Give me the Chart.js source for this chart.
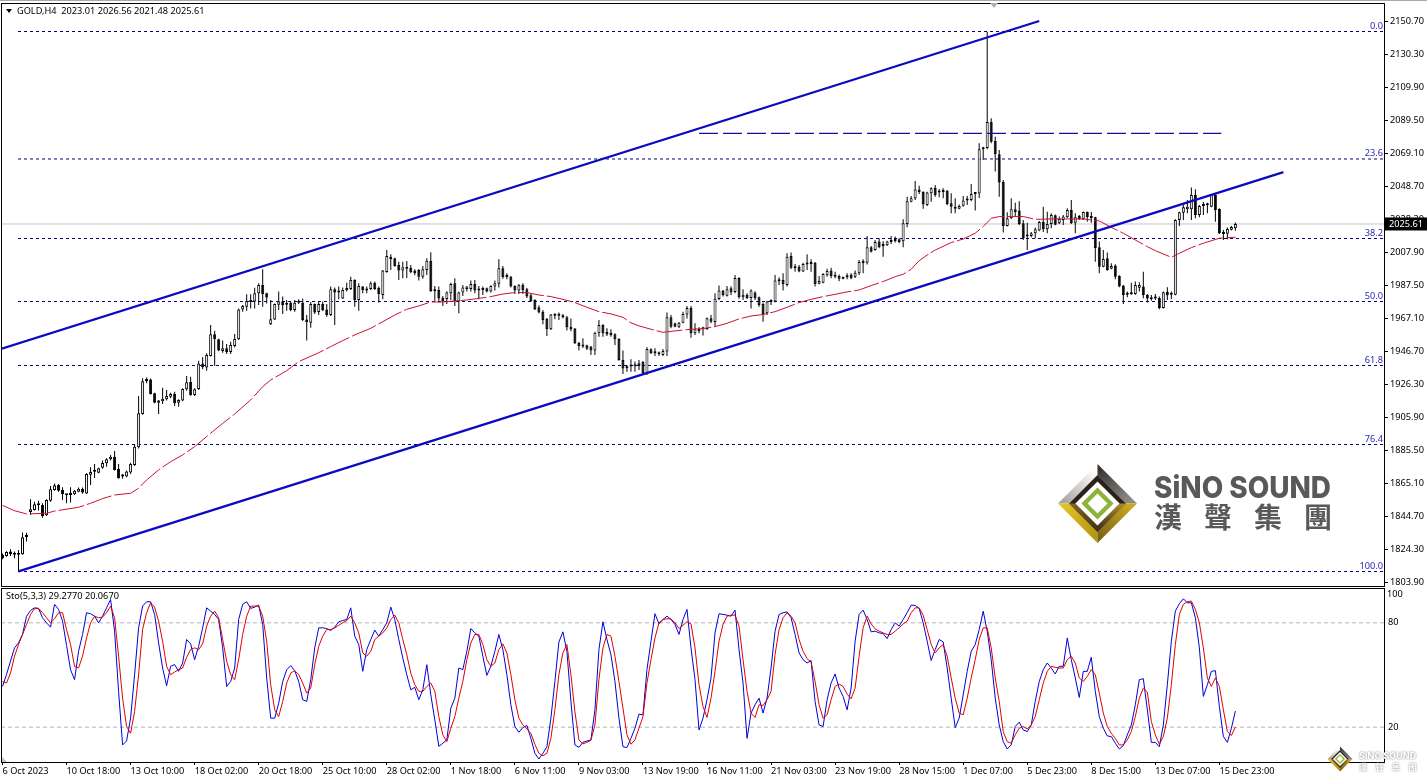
<!DOCTYPE html>
<html>
<head>
<meta charset="utf-8">
<title>GOLD,H4</title>
<script src="https://cdn.jsdelivr.net/npm/chart.js@4/dist/chart.umd.js"></script>
<style>
  html, body { margin: 0; padding: 0; background: #fff; overflow: hidden; }
  canvas { position: absolute; left: 0; }
  #price { top: 0; }
  #sto { top: 587px; }
</style>
</head>
<body>
<canvas id="price" width="1427" height="587"></canvas>
<canvas id="sto" width="1427" height="194"></canvas>
<script>
const opens = [
1820.9,1820.3,1823,1822,1821.8,1821.4,1832,1847.5,1848.8,1851.7,
1851.9,1845.5,1854.5,1861.1,1864.2,1861.1,1858.4,1858.4,1858.4,1860,
1861.7,1859,1870.6,1872.4,1871.8,1874.9,1877.6,1880.1,1881.7,1874.1,
1869.4,1869.4,1871.9,1876.6,1887.5,1908.1,1928.5,1929.5,1920.9,1915.1,
1916,1917.2,1918.8,1920.5,1915.1,1916.4,1923.4,1927.9,1919.9,1923.6,
1939.4,1936.8,1944,1957.4,1954.3,1947.1,1948.7,1946.4,1950.2,1954.3,
1972.8,1974.5,1977.4,1977.6,1982.7,1987.9,1982.7,1963.6,1966.6,1975.7,
1977.8,1976.5,1976.9,1972.4,1977.4,1976.9,1966.6,1964.6,1976.1,1971.2,
1976.1,1972.8,1969.3,1985.2,1983.2,1979.6,1984.8,1985.4,1991,1978.6,
1986.9,1985.2,1985.4,1989.3,1986.2,1981.7,1995.9,2005.4,2004.4,2000.3,
1996.8,1998.8,1998.4,1996.8,1997.2,1993,1997.2,2002.9,1984.8,1984.8,
1980,1979.2,1982.7,1988.9,1977.6,1983.2,1985.4,1985.4,1988.5,1985.2,
1985.8,1985.8,1983.8,1986.9,1988.7,1998.2,1994.1,1993,1987.3,1984.4,
1988.1,1985.2,1981.5,1978.6,1974.1,1971.4,1967,1960.5,1969.2,1968.8,
1969.1,1967.9,1962.1,1960.9,1952.2,1951,1950.6,1949.8,1947.3,1958,
1963.2,1958.8,1958.4,1957.4,1954.5,1941.5,1937.4,1938.6,1937.4,1939.5,
1940.3,1933.3,1948.1,1946.5,1945.6,1944.6,1946.7,1967.9,1964.2,1962.1,
1964.6,1969.6,1973.7,1958,1960.7,1960.5,1960.7,1967.3,1965,1979.2,
1984.4,1981.3,1985.8,1983.6,1992.2,1980.3,1981.9,1979.9,1983.2,1980.3,
1976.1,1970.4,1977.4,1977.6,1990.2,1991,1987.9,2005.8,1999,1999.2,
1996.3,2000.5,2000.9,2001.7,1988.7,1989.3,1993.9,1996.8,1994.1,1993.5,
1992.6,1992.6,1994.3,1993,1995.1,2002.9,2001.7,2011.2,2009.5,2014.7,
2012.8,2012.4,2014.5,2016.3,2016.1,2014.9,2025.6,2039.4,2041.3,2047,
2045.4,2037.4,2044.6,2047.9,2045.8,2046.2,2046.2,2038.4,2036.3,2035.1,
2036.9,2040.2,2040.5,2044.2,2044.4,2071.8,2072.6,2088.7,2076.9,2068.7,
2051.6,2024.4,2029.1,2034.7,2033.9,2026,2017.8,2018.2,2019.8,2021.5,
2026.9,2022.3,2025.6,2031,2026,2028.1,2029.7,2034.3,2026.4,2030.5,
2028.5,2033,2030.1,2029.7,2011.2,1999.2,2004.4,1998,2000,1993.5,
1987.5,1982.7,1982.7,1982.3,1986.2,1986.9,1981.9,1979.9,1979.5,1979.9,
1973.7,1983.6,1982.3,1981.9,2028.1,2032.6,2034.7,2034.7,2043.5,2031.2,
2036.7,2037.2,2036.3,2043.7,2034.9,2020.7,2019.6,2022.1,2023.01];

const highs = [
1821.9,1823.2,1824.4,1823,1824,1834.9,1834.7,1855.4,1853.9,1854.5,
1852.9,1855.4,1863.6,1865.2,1864.8,1862.8,1858.6,1862.8,1861.1,1862.6,
1862.6,1871.4,1875.1,1877.2,1874.9,1879.3,1880.7,1882.8,1885.2,1877.2,
1871,1873.1,1878,1889.6,1919.2,1930.2,1930.6,1930,1921.3,1916.8,
1924.4,1922.9,1921.3,1921.9,1917.2,1924,1931.6,1931.2,1924,1941.1,
1943.2,1945.6,1963.1,1959.6,1954.7,1953.5,1951.4,1952.8,1957.6,1973.4,
1975.5,1982.1,1982.1,1986.2,1988.9,1997.6,1983.1,1978.6,1976.5,1983.8,
1980.7,1978.6,1977.6,1978.6,1979,1979.6,1969.3,1977.4,1976.5,1977.6,
1977.6,1976.1,1986.9,1986.4,1986.9,1986.4,1989.3,1993,1991.4,1988.9,
1987.3,1986.9,1990,1990,1986.9,1997.2,2009.5,2006.9,2004.8,2002.3,
2002.3,2002.7,2000.3,1997.6,1997.8,1999.6,2004.4,2008.1,1987.3,1986.9,
1981.1,1984,1989.3,1992,1983.8,1987.9,1987.3,1990.6,1991,1987.3,
1986.9,1986.4,1987.7,1990.6,2003.8,1999.6,1995.1,1993.5,1987.7,1988.5,
1988.9,1986,1982.3,1979,1975.3,1972.4,1967.5,1970,1970.4,1970.8,
1970,1968.7,1967.1,1961.3,1952.6,1954.9,1951,1950.2,1959,1966.3,
1963.6,1961.1,1960.5,1958,1954.9,1947.3,1938.4,1941.9,1940.5,1941.5,
1940.9,1949.4,1948.7,1948.7,1946.7,1948.3,1970.8,1969.3,1964.6,1965,
1971.4,1974.9,1974.9,1964.2,1961.7,1962.1,1967.7,1969.3,1982.7,1987.5,
1984.8,1987.3,1987.1,1994.1,1992.6,1985.2,1982.7,1985.2,1984,1980.7,
1977,1978.2,1979,1994.1,1992.6,1995.1,2007.5,2007.9,2000.9,2000.3,
2001.7,2006.9,2003.8,2002.1,1993.5,1995.1,1998,1998.6,1996.1,1994.3,
1993,1995.1,1995.1,1996.8,2003.4,2003.8,2018.2,2012,2015.7,2016.8,
2015.1,2015.3,2018.2,2017.8,2016.8,2028.5,2042.5,2042.9,2052.2,2049.3,
2045.8,2045.6,2048.3,2049.7,2047.3,2047.7,2046.6,2044.6,2041.5,2037.6,
2042.9,2042.9,2050.3,2045,2075.5,2073.4,2144.5,2091,2079.6,2071.4,
2052.8,2032.8,2041.5,2038.8,2039.6,2028.1,2026.4,2020.7,2023.5,2027.5,
2036.3,2033.2,2032.2,2031.4,2030.2,2031.2,2035.3,2040.5,2032.2,2031.2,
2033.4,2033.4,2033,2030.1,2014.7,2009.5,2007.9,2001.3,2000.7,1993.9,
1987.9,1983.8,1989.3,1990,1989.5,1996.1,1982.3,1981.7,1982.3,1980.7,
1983.8,1986.5,1983.8,2028.5,2033.2,2037.4,2040.5,2048.1,2047.1,2037.4,
2039.2,2038.8,2044.2,2044.6,2035.3,2021.9,2023.5,2024.4,2026.56];

const lows = [
1818.3,1819.9,1820.3,1818.9,1810.8,1821,1829.2,1845.7,1848.4,1848.4,
1844,1845,1853.9,1860.7,1860.1,1854.9,1852.9,1853.3,1858,1859.7,
1858.8,1858.6,1864.2,1868.5,1871.4,1874.3,1875.5,1879.3,1873.1,1868.1,
1868.1,1869,1871,1876,1886.7,1907.7,1927.1,1920.1,1914.7,1908.1,
1914.3,1916.4,1917.8,1913.1,1912.6,1916,1922.5,1919.4,1919.2,1923,
1935.7,1934.9,1943.6,1937.8,1946.9,1946,1945.2,1945.2,1949.3,1953.9,
1971.4,1972,1973.4,1973.4,1975.5,1974.5,1976.5,1963.1,1966.2,1972.4,
1969.9,1972,1971.6,1971.4,1976.1,1965.6,1953.5,1961.5,1969.9,1969.3,
1971.6,1968.3,1968.7,1963.2,1979,1979.2,1983.8,1984.8,1974.5,1972,
1982.7,1982.7,1984.8,1984.8,1977,1979,1995.5,1997.2,1999.2,1991,
1992,1992.2,1995.1,1993.9,1990.6,1991.8,1994.1,1983.6,1978.2,1977,
1974.9,1976.1,1978.6,1974.9,1970.4,1981.1,1983.8,1983.8,1982.7,1979,
1981.7,1983.2,1983.2,1984.4,1986.4,1991.8,1991.4,1986.4,1982.3,1982.3,
1982.3,1979.9,1977.4,1972.4,1970.4,1963.6,1956.4,1960.1,1966.7,1966.2,
1967.1,1959.7,1959.2,1951.4,1947.3,1948.9,1947.7,1944.6,1944.6,1955.9,
1955.9,1956.4,1955.9,1950.8,1941.1,1932.9,1934.3,1934.3,1934.3,1935.3,
1932.9,1932.2,1945.2,1944,1944,1944,1944,1961.1,1961.7,1961.3,
1964.2,1967.1,1955.3,1957,1958,1956.6,1960.1,1964.2,1962.1,1978.6,
1980.7,1980.7,1981.7,1982.7,1979.4,1978.6,1979.2,1973.3,1978.6,1974.5,
1965.2,1969.3,1975.5,1977.2,1987.9,1984.4,1986.9,1997.8,1996.1,1995.7,
1995.9,1997.2,1996.1,1986.9,1988.3,1988.9,1993,1992,1992,1990.2,
1991.4,1991.4,1991.4,1992.2,1994.1,1995.1,2000.5,2007.9,2009.1,2010.6,
2005.4,2012,2013.2,2014.1,2013.7,2011.2,2023.6,2039,2040.5,2044.2,
2035.1,2036.7,2039.4,2042.5,2042.1,2041.5,2037.2,2032.2,2032.2,2034.7,
2036.3,2037.4,2039.6,2033.9,2041.7,2065.2,2071.8,2075.5,2058,2042.5,
2020.3,2024,2028.7,2030.2,2025,2015.7,2009.5,2017.4,2016.8,2021.1,
2020.7,2019.8,2022.9,2024.8,2025.6,2025,2029.3,2025.6,2019.8,2028.1,
2028.1,2027,2026.4,2002.3,1995.1,1998.8,1996.7,1997.6,1991.4,1986.5,
1976.2,1980.3,1981.9,1981.9,1983.8,1979.7,1977,1978.2,1978.6,1972.9,
1973.3,1978.6,1979,1981.5,2024.4,2028.1,2032.2,2028.1,2029.1,2029.7,
2031.2,2032.2,2035.9,2027,2019.4,2015.7,2016.1,2021.5,2021.48];

const closes = [
1818.9,1822.8,1821.4,1821,1821,1831.9,1832.6,1849.2,1852.3,1851.9,
1845,1854.9,1861.5,1864,1860.7,1858.4,1857.8,1858,1860.7,1861.9,
1859.5,1871,1872.2,1872.8,1874.5,1877.8,1880.1,1881.7,1873.5,1868.5,
1869.9,1872.5,1877.2,1887.9,1908.5,1928.3,1928.9,1920.5,1915.1,1916.4,
1917.6,1919.2,1920.5,1914.7,1916.8,1923.6,1927.7,1919.9,1923.4,1939.4,
1937,1944.6,1957.4,1954.3,1947.3,1948.7,1946.4,1950.8,1954.5,1972.8,
1974.9,1978,1978,1982.7,1987.9,1982.3,1980.2,1966.7,1976.1,1977.8,
1975.3,1975.7,1972.4,1976.9,1976.9,1966.2,1964.8,1976.1,1970.8,1976.1,
1972.4,1969.3,1985.2,1983.2,1983.6,1984.8,1985.8,1991,1978.6,1987.3,
1984.8,1984.4,1988.9,1985.4,1982.3,1996.8,2005.8,2003.8,1999.6,1996.8,
1998.8,1998,1995.9,1995.1,1993,1997.6,2002.9,1984.2,1984,1979.6,
1978,1983.2,1988.5,1977.6,1983.2,1986.4,1986.9,1988.5,1984.4,1984.4,
1984.8,1983.8,1987.3,1988.9,1998.2,1992.6,1992.6,1986.9,1984.4,1987.7,
1984.8,1980.7,1977.8,1972.8,1970.8,1966.2,1960.5,1969.6,1968.8,1969.6,
1967.9,1961.7,1960.5,1951.8,1950.2,1949.8,1948.5,1947.3,1958.4,1963.2,
1958,1957.2,1956.8,1954.3,1941.5,1936.2,1936.4,1937.4,1938.8,1937.8,
1933.3,1948.3,1945.6,1945.6,1945,1947.1,1967.9,1962.1,1962.1,1964.6,
1970,1973.7,1958,1960.5,1959.2,1961.1,1967.3,1965.2,1979.4,1984.4,
1981.7,1985.2,1983.2,1992.2,1980.3,1981.9,1979.9,1984.4,1979.7,1975.5,
1970,1977.6,1977.8,1990.6,1991,1988.5,2005.4,1998.6,1998.2,1996.3,
2000.9,2001.3,2001.7,1988.5,1990.4,1994.7,1996.6,1993.5,1993,1991.8,
1991.8,1993.5,1992,1995.5,2002.1,2001.3,2011.2,2008.5,2014.5,2011.2,
2012,2014.7,2015.5,2014.9,2014.5,2026,2039.6,2041.5,2047,2045.4,
2037.6,2045,2047.7,2043.3,2045,2045.4,2038,2036.3,2035.1,2036.8,
2040.2,2041,2044.2,2044.6,2071.8,2072.4,2088.7,2076.5,2068.7,2051.2,
2024.4,2029.1,2034.7,2033,2025.6,2016.7,2018.5,2019.8,2022.3,2026.9,
2022.3,2025.6,2031.2,2025.2,2028.7,2030.2,2034.3,2026,2029.7,2028.5,
2033,2029.7,2029.3,2010.8,1999.2,2004,1997.2,1999.6,1993,1986.9,
1981.7,1981.9,1982.2,1987.9,1987.9,1981.5,1979.5,1979,1979.9,1973.7,
1983.4,1981.5,1981.9,2028.1,2032.8,2035.9,2036.3,2043.5,2031.2,2036.7,
2037.4,2037.9,2043.7,2034.3,2019.8,2019.4,2022.5,2023.8,2025.61];

// moving average, read at these bars
const maBars = [0,3,6,11,13,19,22,25,28,32,34,36,39,42,45,48,52,55,58,62,65,67,71,74,79,
  82,85,88,92,95,98,101,104,107,110,113,116,119,122,125,128,131,134,137,140,143,146,149,152,155,157,159,
  162,165,168,172,175,178,181,184,187,190,193,196,199,202,205,208,211,214,217,220,223,225,227,229,231,233,234,
  237,240,243,245,247,249,252,255,258,262,266,270,274,277,280,283,286,288,292,294,297,300,304,308];
const maValues = [1851.6,1848.3,1846.3,1846.7,1848.1,1850.4,1852.9,1855.8,1858,1859.1,1862.2,1867.3,1873.5,1878.6,1882.8,1887.9,1896.2,1902.3,1908.1,1916.8,1925,1929.1,1934.9,1940.5,1946,
  1949.8,1953.5,1957,1961.1,1965.2,1969.3,1972.9,1974.9,1977.4,1977.4,1978,1978.6,1979.6,1980.7,1982.3,1983.2,1983.2,1981.7,1980.7,1979,1977,1974.1,1971.4,1970,1967.9,1964.5,1962.6,
  1960.5,1958.6,1959.5,1960.5,1960.9,1962.1,1964.2,1966.9,1968.7,1969.6,1971.4,1974.1,1977,1979,1980.7,1982.1,1983.6,1984.8,1987.5,1990,1993,1994.5,1997.6,2002.9,2006.4,2009.5,2010.6,
  2014.1,2016.3,2019.9,2024,2029.1,2030.2,2030.2,2030.2,2028.5,2028.7,2028.7,2028.7,2027.5,2023.5,2019.9,2015.7,2011.6,2009.1,2005,2007.5,2011,2013.7,2016.8,2017.4];

const stoMain = [
43.4,50.2,58,65.6,68.4,73.3,83.8,87.1,88.6,88.3,82.9,80,77.5,90.6,87.7,81,67,53,47.3,63.6,
73.3,85.8,85.2,83.8,80,83.8,88.6,93.4,75.2,40.6,9.8,12.1,25.2,50.2,77.1,89.6,92.1,92.1,84.8,68.4,
54,43.8,55,56,52.1,56.9,70.4,67.9,58.8,66.5,77.1,88.6,86.7,84.8,81.9,65.6,43.4,46.3,54,81.9,
90.6,92.1,88.3,89,90.2,79,48.3,25.2,25.2,33.8,46.3,53,55.4,52.5,46.3,35.8,34.8,47.3,65.6,77.1,
77.1,76.7,75.6,77.5,80.6,81.3,81.9,88.6,72.3,67.5,52.1,64.6,70.4,75.8,72.3,76.1,80,89,81.9,70.4,
59.8,50.2,41.5,42.9,35.8,41.5,55.9,38.6,24.2,9,10.8,12.7,31,36.7,54,53.1,63.6,76.7,74.2,72.3,
60.8,49.8,55,63.6,73.3,64.6,50.2,32.9,20.4,17.1,19.8,21,13.6,5,1.7,5,8.8,25.2,46.3,69,
74.8,63.6,34.8,9.8,8.4,11.3,12.1,12.7,30,64.6,80.6,70.4,61.7,46.3,25.2,8.8,8.3,13.6,19.4,27.5,
27.1,53.1,69.4,85.2,79.4,81.9,83.8,81.9,79,73.3,81.9,87.7,65.6,47.3,18.4,25.2,35.8,48.3,74.2,85.2,
84.8,84.4,83.8,87.3,64.6,45.4,13.6,28.1,32.9,36.7,28.1,36.7,54,75.2,84.8,85.8,86.3,82.9,73.3,62.7,
58.8,56.9,58.3,34.8,21.3,20.4,35.8,45.4,50.6,42.5,37.7,30,42.5,69.4,84.8,87.3,81.9,74.8,75.2,74.2,
73.8,70.9,76.1,80,78.1,81.9,85.8,90.2,90,88.3,80,69.4,58.3,64.6,70.4,69,54,36.7,19.8,25.2,
38.6,52.1,63.6,67.5,76.1,86.7,75.2,58.8,36.7,21.3,11.7,7.5,9.8,20.4,22.9,18.4,17.5,21.3,34.8,46.3,
53.1,56.9,54,50.6,55,55,71.3,58.8,48.3,37.1,52.1,52.1,60.2,40.6,26.1,19.4,15,14.6,10.8,7.5,
9.4,15.6,21.3,32.9,47.3,47.9,30,11.3,11.3,8.8,21.3,44.4,69.4,86.7,91,93.8,91.5,91.5,82.9,65.6,
37.7,44.4,52.1,52.5,31.9,14.6,11.3,19.4,29.277];

const stoSignal = [
46.3,45.4,51.1,60.8,67.5,73.3,79,84.8,88.1,88.3,85.8,82.9,80,82.3,85.8,85.8,76.1,67.5,55,54,
60.8,71.3,80,83.8,82.9,83.3,85.8,89.6,82.9,60.8,36.7,20.4,16.5,29,50.2,76.1,85.8,91.5,89,80.9,
69.4,55,50.2,51.7,53.1,54,60.2,64.6,65.6,64.6,67.9,78.1,83.8,86.7,82.9,70.4,57.9,50.2,47.3,58.8,
73.3,83.8,89.6,89.6,89.6,83.8,69.4,44.4,30,26.1,34.8,45.4,51.1,52.5,50.2,45.4,39.6,42.5,55.9,66.5,
72.3,76.1,76.1,77.1,78.6,80,81.3,83.8,80,74.2,62.7,60.8,63.6,70.4,72.3,74.2,77.1,81.9,84.4,80,
70.4,61.7,51.1,44.4,40.6,40.6,43.4,45.4,40.6,26.1,15.6,11.7,19.4,26.1,36.7,46.3,58.8,68.4,73.3,73.3,
67.5,58.8,55,56.9,64.6,67.9,62.7,50.2,35.8,25.2,21.3,19,16.5,10.2,5,3.6,5,13.6,30,50.2,
62.7,67.5,50.2,29,12.7,10.4,11.3,12.5,21.3,47.3,65.6,73.3,72.3,60.8,46.3,31,15.6,10.2,12.7,19.4,
26.1,45.4,58.8,71.3,80,81.9,82.3,82.3,80,76.7,78.6,80.6,79.4,65.6,44.4,31.9,25.6,36.7,52.1,69.4,
79,83.8,84.4,84.4,78.1,58.8,40.6,28.1,25.6,32.9,32.5,35.8,40.6,61.7,76.1,82.9,85.8,83.8,80,70.4,
63.6,59.4,57.5,46.3,32.9,25.2,27.1,35.8,43.4,44.8,43.4,39,36.3,42.5,60.8,77.1,83.8,79.4,76.5,75.2,
74.2,73.3,73.3,75.2,77.1,79.4,80.9,85.8,88.6,88.6,84.4,76.1,67.5,62.7,65.6,67.5,60.8,48.3,36.7,28.1,
27.1,36.7,48.3,58.8,70.4,77.1,77.1,65.6,48.3,34.8,17.5,11.7,10.8,15.6,19.4,20.4,19,21.3,26.1,35.8,
45.4,52.1,55,54.4,54,54,58.8,60.8,56.9,48.3,46.3,49.2,53.1,50.2,39.6,28.1,20.4,16.5,13.6,9.8,
9.8,12.7,17.5,26.1,36.7,42.5,40.2,23.3,15.6,10.2,14.6,25.2,44.4,67.5,84.8,90.6,92.1,92.5,87.7,80,
65.6,48.3,43.4,48.3,43.4,30,17.5,15.2,20.067];

const priceTicks = [1803.9,1824.3,1844.7,1865.1,1885.5,1905.9,1926.3,1946.7,1967.1,1987.5,2007.9,2028.3,2048.7,2069.1,2089.5,2109.9,2130.3,2150.7];
const stoLevels = [20, 80];
const timeBars = [0,16,32,48,64,80,96,112,128,144,160,176,192,208,224,240,256,272,288,304];
const timeLabels = ['6 Oct 2023','10 Oct 18:00','13 Oct 10:00','18 Oct 02:00','20 Oct 18:00','25 Oct 10:00','28 Oct 02:00','1 Nov 18:00','6 Nov 11:00','9 Nov 03:00','13 Nov 19:00','16 Nov 11:00','21 Nov 03:00','23 Nov 19:00','28 Nov 15:00','1 Dec 07:00','5 Dec 23:00','8 Dec 15:00','13 Dec 07:00','15 Dec 23:00'];

const fibNames = ['0.0','23.6','38.2','50.0','61.8','76.4','100.0'];
const fibPrices = [2144.64,2065.8,2016.63,1977.67,1938.1,1889.24,1810.7];
const fibStartBar = 3.875;
const lastPrice = 2025.61;

// hand drawn lines: [bar, price] at each end
const upperChannel = [[-0.375,1948.3],[259,2151.1]];
const lowerChannel = [[4,1810.8],[320,2057.7]];
const midLine = [[174,2081.6],[304.5,2081.6]];

const X_MIN = -0.375, X_MAX = 345.125;
const FONT = '"Noto Sans", Arial, sans-serif';
const FONT_SIZE = 9.2;
Chart.defaults.font.family = FONT;
Chart.defaults.font.size = FONT_SIZE;
Chart.defaults.color = '#000';

function toXY(pairs) {
  return pairs.map(p => ({ x: p[0], y: p[1] }));
}

// the axes must not push the plot area in for their labels
function noScalePadding(s) {
  s.paddingTop = 0; s.paddingBottom = 0; s.paddingLeft = 0; s.paddingRight = 0;
}

function diamond(ctx, cx, cy, r) {
  ctx.beginPath();
  ctx.moveTo(cx, cy - r); ctx.lineTo(cx + r, cy); ctx.lineTo(cx, cy + r); ctx.lineTo(cx - r, cy);
  ctx.closePath();
}

function facet(ctx, pts, c1, c2) {
  let g = ctx.createLinearGradient(pts[0][0], pts[0][1], pts[2][0], pts[2][1]);
  g.addColorStop(0, c1);
  g.addColorStop(1, c2);
  ctx.fillStyle = g;
  ctx.beginPath();
  pts.forEach((p, i) => i ? ctx.lineTo(p[0], p[1]) : ctx.moveTo(p[0], p[1]));
  ctx.closePath();
  ctx.fill();
}

function drawLogo(ctx, cx, cy, r) {
  let k = r * 0.72;
  facet(ctx, [[cx - r, cy], [cx, cy - r], [cx, cy - k], [cx - k, cy]], '#9a9a98', '#ffffff');
  facet(ctx, [[cx, cy - r], [cx + r, cy], [cx + k, cy], [cx, cy - k]], '#2e2a28', '#8f8a84');
  facet(ctx, [[cx - r, cy], [cx, cy + r], [cx, cy + k], [cx - k, cy]], '#e6c92e', '#b8960f');
  facet(ctx, [[cx, cy + r], [cx + r, cy], [cx + k, cy], [cx, cy + k]], '#6f5a10', '#c7a81f');
  diamond(ctx, cx, cy, k);
  ctx.fillStyle = '#2a211b';
  ctx.fill();
  facet(ctx, [[cx - k, cy], [cx, cy + k], [cx, cy + r * 0.56], [cx - r * 0.56, cy]], '#8a6a1c', '#4a3616');
  facet(ctx, [[cx, cy + k], [cx + k, cy], [cx + r * 0.56, cy], [cx, cy + r * 0.56]], '#3a2a14', '#a88a2a');
  diamond(ctx, cx, cy, r * 0.56);
  ctx.fillStyle = '#fff';
  ctx.fill();
  diamond(ctx, cx, cy, r * 0.33);
  ctx.strokeStyle = '#8db33a';
  ctx.lineWidth = r * 0.11;
  ctx.stroke();
}

const priceDecor = {
  id: 'priceDecor',
  afterDraw(chart) {
    const ctx = chart.ctx, area = chart.chartArea, y = chart.scales.y;
    ctx.save();
    // window frame
    ctx.fillStyle = '#a8a8a8';
    ctx.fillRect(0, 0, 1427, 1);
    ctx.strokeStyle = '#000';
    ctx.lineWidth = 1;
    ctx.strokeRect(area.left + 0.5, area.top + 0.5, area.right - area.left, area.bottom - area.top);

    // header
    ctx.fillStyle = '#000';
    ctx.beginPath();
    ctx.moveTo(6, 9); ctx.lineTo(12, 9); ctx.lineTo(9, 13);
    ctx.closePath();
    ctx.fill();
    ctx.font = FONT_SIZE + 'px ' + FONT;
    ctx.textAlign = 'left';
    ctx.textBaseline = 'middle';
    ctx.fillText('GOLD,H4  2023.01 2026.56 2021.48 2025.61', 17, 11.5);

    // marker of the high at the top edge
    ctx.fillStyle = '#b0b0b0';
    ctx.beginPath();
    ctx.moveTo(990, 3); ctx.lineTo(998, 3); ctx.lineTo(994, 8);
    ctx.closePath();
    ctx.fill();

    // fibo level names
    ctx.fillStyle = '#2a2ab4';
    ctx.textAlign = 'right';
    fibNames.forEach((name, i) => {
      ctx.fillText(name, area.right - 1, y.getPixelForValue(fibPrices[i]) - 5.6);
    });

    // current price tag
    let py = y.getPixelForValue(lastPrice);
    ctx.fillStyle = '#000';
    ctx.fillRect(area.right + 1, py - 6.5, 43, 13);
    ctx.fillStyle = '#fff';
    ctx.textAlign = 'left';
    ctx.fillText(lastPrice.toFixed(2), 1389, py + 0.5);

    // watermark
    drawLogo(ctx, 1097.5, 503.5, 39.5);
    ctx.fillStyle = '#58595b';
    ctx.textBaseline = 'alphabetic';
    ctx.font = '800 30px Inter, Roboto, sans-serif';
    ctx.fillText('SiNO SOUND', 1154, 498, 177);
    ctx.font = 'bold 28px "Noto Sans CJK TC"';
    ctx.textAlign = 'center';
    ['漢', '聲', '集', '團'].forEach((c, i) => ctx.fillText(c, 1168 + 50 * i, 528));
    ctx.restore();
  }
};

const stoDecor = {
  id: 'stoDecor',
  afterDraw(chart) {
    const ctx = chart.ctx, area = chart.chartArea;
    ctx.save();
    ctx.strokeStyle = '#000';
    ctx.lineWidth = 1;
    ctx.strokeRect(area.left + 0.5, area.top + 0.5, area.right - area.left, area.bottom - area.top);
    ctx.fillStyle = '#000';
    ctx.font = FONT_SIZE + 'px ' + FONT;
    ctx.textBaseline = 'middle';
    ctx.fillText('Sto(5,3,3) 29.2770 20.0670', 6, 9.5);
    ctx.fillText('100', 1387, 7.5);

    // scroll corner
    ctx.fillStyle = '#c0c0c0';
    ctx.beginPath();
    ctx.moveTo(2, 170); ctx.lineTo(7, 175); ctx.lineTo(2, 175);
    ctx.closePath();
    ctx.fill();

    // small watermark in the corner
    drawLogo(ctx, 1340, 172, 12.5);
    ctx.textBaseline = 'alphabetic';
    ctx.font = '800 9px Inter, Roboto, sans-serif';
    ctx.shadowColor = 'rgba(90,90,90,0.9)';
    ctx.shadowBlur = 2;
    ctx.fillStyle = '#fff';
    ctx.fillText('SiNO SOUND', 1359, 172, 58);
    ctx.font = 'bold 8px "Noto Sans CJK TC"';
    ctx.textAlign = 'center';
    ['漢', '聲', '集', '團'].forEach((c, i) => ctx.fillText(c, 1363 + 16.5 * i, 183));
    ctx.restore();
  }
};

const flatLine = {
  type: 'line', pointRadius: 0, borderWidth: 1, tension: 0, fill: false
};

const priceDatasets = [];
fibPrices.forEach((p, i) => {
  priceDatasets.push(Object.assign({}, flatLine, {
    label: 'fibo ' + fibNames[i],
    data: [{ x: fibStartBar, y: p }, { x: X_MAX, y: p }],
    borderColor: '#000080', borderDash: [3, 3], order: 10
  }));
});
priceDatasets.push(Object.assign({}, flatLine, {
  label: 'last', data: [{ x: X_MIN, y: lastPrice }, { x: X_MAX, y: lastPrice }],
  borderColor: '#c4c4c4', order: 11
}));
priceDatasets.push({
  type: 'bar', label: 'wicks', grouped: false, barThickness: 1, backgroundColor: '#000',
  borderWidth: 0, inflateAmount: 0, order: 6,
  data: highs.map((h, i) => ({ x: i, y: [lows[i], h] }))
});
priceDatasets.push({
  type: 'bar', label: 'bodies', grouped: false, barThickness: 3,
  backgroundColor: closes.map((c, i) => c >= opens[i] ? '#fff' : '#000'),
  borderColor: '#000', borderWidth: 1, borderSkipped: false, inflateAmount: 0, minBarLength: 2, order: 5,
  data: opens.map((o, i) => ({ x: i, y: [o, closes[i]] }))
});
priceDatasets.push(Object.assign({}, flatLine, {
  label: 'MA', data: maBars.map((b, i) => ({ x: b, y: maValues[i] })),
  borderColor: '#cc1030', borderDash: [26, 3], order: 4
}));
priceDatasets.push(Object.assign({}, flatLine, {
  label: 'upper', data: toXY(upperChannel), borderColor: '#0a0ac0', borderWidth: 2.2, order: 2
}));
priceDatasets.push(Object.assign({}, flatLine, {
  label: 'lower', data: toXY(lowerChannel), borderColor: '#0a0ac0', borderWidth: 2.2, order: 2
}));
priceDatasets.push(Object.assign({}, flatLine, {
  label: 'mid', data: toXY(midLine), borderColor: '#10109c', borderWidth: 1.3, borderDash: [19, 5], order: 3
}));

new Chart(document.getElementById('price'), {
  type: 'bar',
  data: { datasets: priceDatasets },
  plugins: [priceDecor],
  options: {
    responsive: false,
    animation: false,
    devicePixelRatio: 1,
    layout: { autoPadding: false, padding: { left: 1, right: 0, top: 3, bottom: 1 } },
    plugins: { legend: { display: false }, tooltip: { enabled: false }, title: { display: false } },
    scales: {
      x: { type: 'linear', min: X_MIN, max: X_MAX, offset: false, display: false },
      y: {
        type: 'linear', position: 'right', min: 1801.74, max: 2162.26,
        afterFit(s) { s.width = 43; noScalePadding(s); },
        afterBuildTicks(s) { s.ticks = priceTicks.map(v => ({ value: v })); },
        grid: { drawOnChartArea: false, tickLength: 4, color: '#000', offset: false },
        border: { color: '#000' },
        ticks: { padding: 2, autoSkip: false, callback: v => v.toFixed(2) }
      }
    }
  }
});

const stoDatasets = [];
stoLevels.forEach(l => {
  stoDatasets.push(Object.assign({}, flatLine, {
    label: 'level ' + l, data: [{ x: X_MIN, y: l }, { x: X_MAX, y: l }],
    borderColor: '#b4b4b4', borderDash: [4, 3], order: 5
  }));
});
stoDatasets.push(Object.assign({}, flatLine, {
  label: 'main', data: stoMain.map((v, i) => ({ x: i, y: v })), borderColor: '#0000d8', order: 2
}));
stoDatasets.push(Object.assign({}, flatLine, {
  label: 'signal', data: stoSignal.map((v, i) => ({ x: i, y: v })), borderColor: '#e00000', order: 1
}));

new Chart(document.getElementById('sto'), {
  type: 'line',
  data: { datasets: stoDatasets },
  plugins: [stoDecor],
  options: {
    responsive: false,
    animation: false,
    devicePixelRatio: 1,
    layout: { autoPadding: false, padding: { left: 1, right: 0, top: 1, bottom: 0 } },
    plugins: { legend: { display: false }, tooltip: { enabled: false } },
    scales: {
      x: {
        type: 'linear', min: X_MIN, max: X_MAX, offset: false,
        afterFit(s) { s.height = 19; noScalePadding(s); },
        afterBuildTicks(s) { s.ticks = timeBars.map(v => ({ value: v })); },
        grid: { drawOnChartArea: false, tickLength: 3, color: '#000' },
        border: { color: '#000' },
        ticks: {
          autoSkip: false, maxRotation: 0, align: 'start', padding: 1,
          callback: (v, i) => timeLabels[i]
        }
      },
      y: {
        type: 'linear', position: 'right', min: 0, max: 100,
        afterFit(s) { s.width = 43; noScalePadding(s); },
        afterBuildTicks(s) { s.ticks = stoLevels.map(v => ({ value: v })); },
        grid: { drawOnChartArea: false, tickLength: 0, color: '#000' },
        border: { color: '#000' },
        ticks: { padding: 4, autoSkip: false, callback: v => String(v) }
      }
    }
  }
});
</script>
</body>
</html>
